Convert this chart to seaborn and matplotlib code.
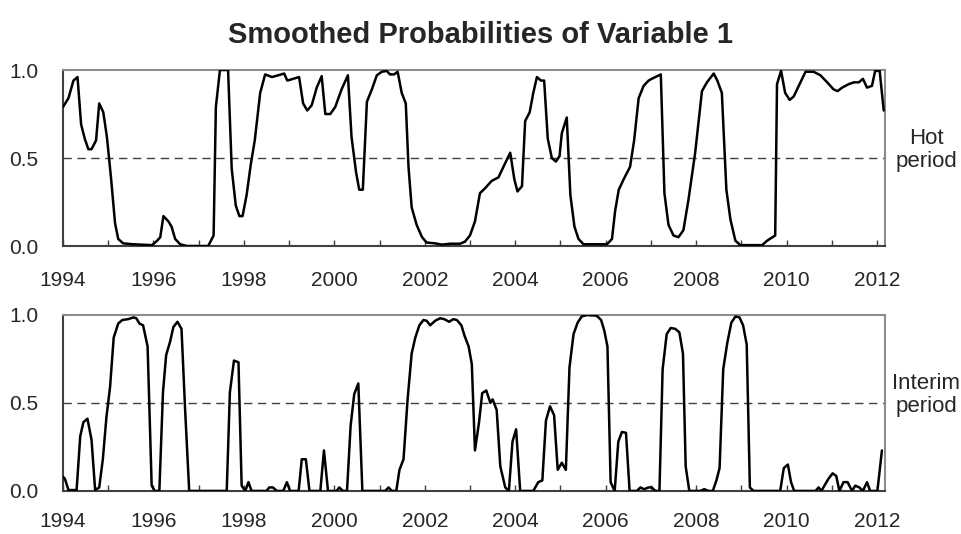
import numpy as np
import pandas as pd
import matplotlib
matplotlib.use("Agg")
import matplotlib.pyplot as plt
import seaborn as sns

# smoothed probabilities (decimal year, probability)
hot_years = [1994.00, 1994.12, 1994.23, 1994.32, 1994.40, 1994.48, 1994.56, 1994.63, 1994.73, 1994.80,
             1994.89, 1994.97, 1995.06, 1995.15, 1995.22, 1995.33, 1995.55, 1995.97, 1996.08, 1996.15,
             1996.22, 1996.33, 1996.40, 1996.48, 1996.59, 1996.74, 1997.21, 1997.33, 1997.38, 1997.47,
             1997.65, 1997.73, 1997.82, 1997.90, 1997.97, 1998.06, 1998.15, 1998.24, 1998.36, 1998.47,
             1998.62, 1998.76, 1998.89, 1998.96, 1999.09, 1999.22, 1999.31, 1999.40, 1999.50, 1999.61,
             1999.72, 1999.80, 1999.91, 2000.02, 2000.16, 2000.30, 2000.38, 2000.48, 2000.55, 2000.63,
             2000.72, 2000.83, 2000.94, 2001.05, 2001.16, 2001.23, 2001.32, 2001.40, 2001.49, 2001.58,
             2001.64, 2001.71, 2001.82, 2001.94, 2002.04, 2002.23, 2002.38, 2002.56, 2002.78, 2002.89,
             2003.00, 2003.11, 2003.22, 2003.34, 2003.48, 2003.63, 2003.74, 2003.89, 2003.98, 2004.05,
             2004.15, 2004.22, 2004.32, 2004.40, 2004.48, 2004.57, 2004.64, 2004.72, 2004.81, 2004.90,
             2004.98, 2005.03, 2005.14, 2005.22, 2005.31, 2005.40, 2005.51, 2006.03, 2006.14, 2006.21,
             2006.29, 2006.40, 2006.54, 2006.63, 2006.73, 2006.84, 2006.95, 2007.02, 2007.22, 2007.30,
             2007.39, 2007.50, 2007.61, 2007.72, 2007.83, 2007.98, 2008.13, 2008.24, 2008.39, 2008.47,
             2008.57, 2008.67, 2008.76, 2008.87, 2008.98, 2009.46, 2009.57, 2009.75, 2009.79, 2009.88,
             2009.97, 2010.07, 2010.16, 2010.31, 2010.42, 2010.60, 2010.75, 2010.90, 2011.04, 2011.13,
             2011.23, 2011.38, 2011.49, 2011.60, 2011.69, 2011.78, 2011.89, 2011.96, 2012.06, 2012.15]
hot_prob = [0.79, 0.84, 0.94, 0.96, 0.69, 0.61, 0.55, 0.55, 0.60, 0.81,
            0.76, 0.62, 0.39, 0.13, 0.04, 0.015, 0.01, 0.005, 0.03, 0.05,
            0.17, 0.14, 0.11, 0.04, 0.01, 0.0, 0.0, 0.06, 0.79, 1.0,
            1.0, 0.44, 0.23, 0.17, 0.17, 0.29, 0.46, 0.60, 0.87, 0.975,
            0.96, 0.97, 0.98, 0.94, 0.95, 0.96, 0.81, 0.77, 0.80, 0.90,
            0.965, 0.75, 0.75, 0.79, 0.89, 0.97, 0.62, 0.42, 0.32, 0.32,
            0.82, 0.89, 0.97, 0.99, 0.995, 0.975, 0.975, 0.99, 0.87, 0.81,
            0.45, 0.22, 0.12, 0.05, 0.02, 0.015, 0.008, 0.013, 0.013, 0.025,
            0.06, 0.14, 0.30, 0.33, 0.37, 0.39, 0.45, 0.53, 0.38, 0.31,
            0.34, 0.71, 0.76, 0.87, 0.96, 0.94, 0.94, 0.61, 0.50, 0.48,
            0.51, 0.64, 0.73, 0.29, 0.11, 0.04, 0.01, 0.01, 0.04, 0.20,
            0.32, 0.38, 0.45, 0.60, 0.84, 0.91, 0.94, 0.95, 0.975, 0.30,
            0.12, 0.06, 0.05, 0.09, 0.26, 0.53, 0.88, 0.93, 0.98, 0.94,
            0.87, 0.32, 0.15, 0.03, 0.005, 0.005, 0.03, 0.06, 0.92, 0.995,
            0.87, 0.83, 0.85, 0.93, 0.99, 0.99, 0.97, 0.93, 0.89, 0.88,
            0.90, 0.92, 0.93, 0.93, 0.95, 0.90, 0.91, 0.995, 0.995, 0.77]

interim_years = [1994.00, 1994.04, 1994.12, 1994.30, 1994.38, 1994.45, 1994.54, 1994.63, 1994.71, 1994.80,
                 1994.88, 1994.96, 1995.04, 1995.12, 1995.22, 1995.31, 1995.44, 1995.56, 1995.62, 1995.69,
                 1995.77, 1995.87, 1995.96, 1996.03, 1996.13, 1996.21, 1996.28, 1996.37, 1996.44, 1996.53,
                 1996.62, 1996.70, 1996.79, 1997.62, 1997.69, 1997.78, 1997.88, 1997.95, 1998.03, 1998.10,
                 1998.17, 1998.50, 1998.56, 1998.64, 1998.73, 1998.87, 1998.95, 1999.02, 1999.21, 1999.28,
                 1999.37, 1999.45, 1999.69, 1999.77, 1999.86, 2000.05, 2000.11, 2000.19, 2000.28, 2000.36,
                 2000.44, 2000.53, 2000.62, 2001.12, 2001.20, 2001.27, 2001.37, 2001.44, 2001.53, 2001.62,
                 2001.71, 2001.79, 2001.88, 2001.97, 2002.04, 2002.12, 2002.23, 2002.34, 2002.43, 2002.54,
                 2002.63, 2002.71, 2002.81, 2002.88, 2002.97, 2003.04, 2003.11, 2003.20, 2003.27, 2003.36,
                 2003.45, 2003.50, 2003.59, 2003.67, 2003.78, 2003.86, 2003.94, 2004.02, 2004.11, 2004.40,
                 2004.51, 2004.60, 2004.68, 2004.77, 2004.86, 2004.94, 2005.03, 2005.12, 2005.20, 2005.29,
                 2005.38, 2005.47, 2005.58, 2005.80, 2005.90, 2005.97, 2006.04, 2006.11, 2006.20, 2006.28,
                 2006.36, 2006.45, 2006.53, 2006.69, 2006.77, 2006.85, 2006.95, 2007.02, 2007.10, 2007.19,
                 2007.26, 2007.35, 2007.44, 2007.54, 2007.63, 2007.71, 2007.77, 2007.85, 2008.09, 2008.18,
                 2008.28, 2008.37, 2008.45, 2008.52, 2008.60, 2008.69, 2008.78, 2008.87, 2008.96, 2009.04,
                 2009.12, 2009.19, 2009.27, 2009.86, 2009.94, 2010.03, 2010.10, 2010.17, 2010.64, 2010.71,
                 2010.77, 2010.86, 2010.93, 2011.02, 2011.10, 2011.17, 2011.26, 2011.35, 2011.45, 2011.52,
                 2011.61, 2011.69, 2011.78, 2011.85, 2012.01, 2012.11]
interim_prob = [0.08, 0.07, 0.005, 0.005, 0.31, 0.39, 0.41, 0.29, 0.005, 0.02,
                0.18, 0.42, 0.59, 0.87, 0.95, 0.97, 0.975, 0.985, 0.98, 0.95,
                0.94, 0.82, 0.03, 0.0, 0.0, 0.56, 0.77, 0.85, 0.93, 0.96,
                0.92, 0.46, 0.0, 0.0, 0.56, 0.74, 0.73, 0.03, 0.0, 0.05,
                0.0, 0.0, 0.02, 0.02, 0.0, 0.0, 0.05, 0.0, 0.0, 0.18,
                0.18, 0.0, 0.0, 0.23, 0.0, 0.0, 0.02, 0.0, 0.0, 0.37,
                0.55, 0.61, 0.0, 0.0, 0.02, 0.0, 0.0, 0.12, 0.18, 0.52,
                0.78, 0.87, 0.94, 0.97, 0.966, 0.94, 0.966, 0.98, 0.975, 0.96,
                0.975, 0.97, 0.94, 0.88, 0.82, 0.72, 0.23, 0.39, 0.555, 0.57,
                0.50, 0.52, 0.46, 0.14, 0.02, 0.0, 0.28, 0.35, 0.0, 0.0,
                0.05, 0.06, 0.40, 0.48, 0.43, 0.12, 0.16, 0.12, 0.70, 0.89,
                0.955, 0.99, 0.998, 0.995, 0.97, 0.91, 0.82, 0.05, 0.0, 0.28,
                0.335, 0.33, 0.0, 0.0, 0.02, 0.01, 0.02, 0.02, 0.0, 0.0,
                0.69, 0.89, 0.925, 0.92, 0.90, 0.78, 0.14, 0.0, 0.0, 0.01,
                0.0, 0.0, 0.06, 0.13, 0.69, 0.84, 0.955, 0.99, 0.985, 0.94,
                0.83, 0.02, 0.0, 0.0, 0.13, 0.15, 0.05, 0.0, 0.0, 0.02,
                0.0, 0.04, 0.07, 0.10, 0.085, 0.0, 0.05, 0.05, 0.0, 0.03,
                0.02, 0.0, 0.05, 0.0, 0.0, 0.23]

year_ticks = list(range(1994, 2013))
year_labels = [str(y) if y % 2 == 0 else "" for y in year_ticks]
y_ticks = [0.0, 0.5, 1.0]
y_labels = ["0.0", "0.5", "1.0"]
title = "Smoothed Probabilities of Variable 1"
panel_labels = ["Hot\nperiod", "Interim\nperiod"]

sns.set_style("white")
plt.rcParams['font.family'] = ['Liberation Sans', 'DejaVu Sans']

fig = plt.figure(figsize=(9.61, 5.34), dpi=100)
ax1 = fig.add_axes([0.0656, 0.5393, 0.8554, 0.3296])
ax2 = fig.add_axes([0.0656, 0.0806, 0.8554, 0.3300])

# (axes, x, y, side label, x tick label pad)
panels = [(ax1, hot_years, hot_prob, panel_labels[0], 18),
          (ax2, interim_years, interim_prob, panel_labels[1], 15.5)]

for ax, yrs, prob, lab, xpad in panels:
    df = pd.DataFrame({"year": yrs, "prob": prob})
    ax.axhline(0.5, color="#404040", lw=1.0, ls=(0, (6, 4)), zorder=1)
    sns.lineplot(data=df, x="year", y="prob", ax=ax, color="black", lw=1.8,
                 sort=False, estimator=None, zorder=3)
    ax.set_xlim(1994, 2012.18)
    ax.set_ylim(0, 1)
    ax.set_xticks(year_ticks)
    ax.set_xticklabels(year_labels)
    ax.set_yticks(y_ticks)
    ax.set_yticklabels(y_labels)
    ax.set_xlabel("")
    ax.set_ylabel("")
    ax.tick_params(axis="x", direction="in", length=4, width=1, color="#404040",
                   labelsize=15, pad=xpad, bottom=True)
    ax.tick_params(axis="y", length=0, labelsize=15, pad=18)
    for side in ["top", "right"]:
        ax.spines[side].set_color("#8c8c8c")
        ax.spines[side].set_linewidth(1.5)
    for side in ["left", "bottom"]:
        ax.spines[side].set_color("#404040")
        ax.spines[side].set_linewidth(1.5)
    ax.text(1.05, 0.546, lab, transform=ax.transAxes, ha="center", va="center",
            fontsize=16, linespacing=1.15)

fig.text(0.5, 0.9195, title, ha="center", va="baseline", fontsize=21, fontweight="bold")

fig.savefig("out.png", dpi=100)
